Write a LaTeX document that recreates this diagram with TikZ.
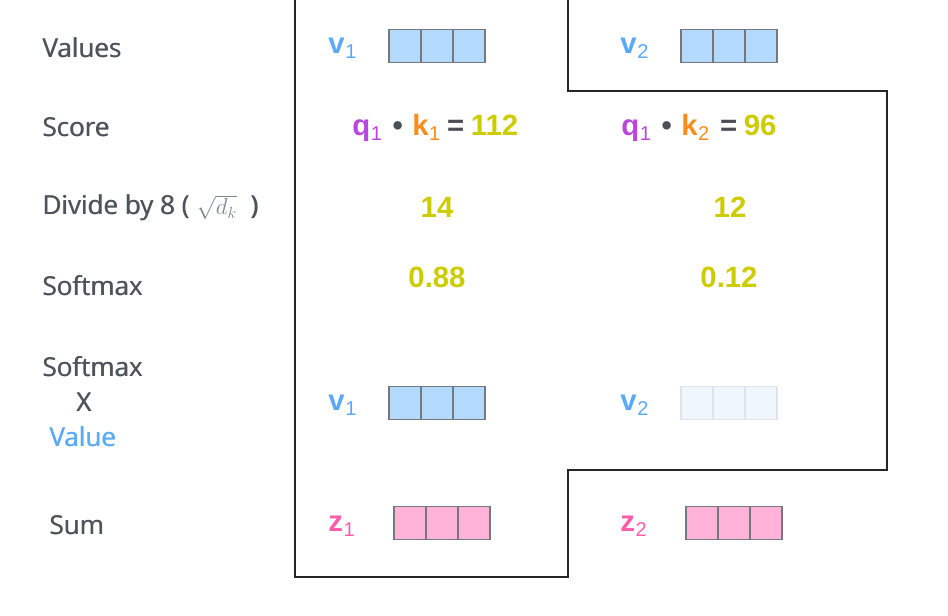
\documentclass[tikz,border=0pt]{standalone}
\usepackage{fontspec}
\setmainfont{Open Sans}
\newfontfamily\cfont{Liberation Sans}
\definecolor{lblgray}{HTML}{4E545A}
\definecolor{vblue}{HTML}{5AAAF8}
\definecolor{boxblue}{HTML}{B3D9FF}
\definecolor{faintfill}{HTML}{F0F6FE}
\definecolor{faintline}{HTML}{E0E4E9}
\definecolor{cellline}{HTML}{75797E}
\definecolor{zpink}{HTML}{FF5CAA}
\definecolor{boxpink}{HTML}{FFB3D9}
\definecolor{qpurple}{HTML}{BB44DD}
\definecolor{korange}{HTML}{FF8C1A}
\definecolor{numyellow}{HTML}{CCCC00}
\definecolor{opgray}{HTML}{4A4F55}
\definecolor{mathgray}{HTML}{80858B}
\newcommand{\sbx}[1]{\hspace{0.5pt}\raisebox{-0.3ex}{\fontsize{15}{15}\selectfont\mdseries #1}}
\newcommand{\semib}[1]{\rlap{#1}\kern0.45pt#1}
\tikzset{
  outline/.style={draw=black!85, line width=1.1pt},
  lbl/.style={font=\fontsize{19.5}{22}\selectfont, text=lblgray, inner sep=0pt, anchor=west},
  clr/.style={font=\cfont\bfseries\fontsize{22}{24}\selectfont, inner sep=0pt},
  cell/.style={draw=cellline, line width=0.9pt, minimum width=24pt, minimum height=24.5pt, inner sep=0pt, outer sep=0pt},
  bluecell/.style={cell, fill=boxblue},
  faintcell/.style={cell, fill=faintfill, draw=faintline},
  pinkcell/.style={cell, fill=boxpink},
}
\newcommand{\vecbox}[4]{% name, x-left, y-center, style
  \node[#4, anchor=west] (#1a) at (#2,#3) {};
  \node[#4, anchor=west] (#1b) at (#1a.east) {};
  \node[#4, anchor=west] (#1c) at (#1b.east) {};
}
\begin{document}
\begin{tikzpicture}[x=0.75pt,y=-0.75pt]
\useasboundingbox (0,0) rectangle (948,616);
% outline
\draw[outline] (295,0) -- (295,577) -- (568,577) -- (568,470) -- (887,470) -- (887,91) -- (568,91) -- (568,0);
% row labels
\node[lbl] (lvalues) at (42,48) {\semib{Values}};
\node[lbl] (lscore) at (42,127) {\semib{Score}};
\node[lbl] (ldivide) at (42,208) {\semib{Divide by 8 (} {\color{mathgray}\fontsize{17}{17}\selectfont$\sqrt{d_k}$} \ \semib{)}};
\node[lbl] (lsoft) at (42,286) {\semib{Softmax}};
\node[lbl] (lsoft2) at (42,367) {\semib{Softmax}};
\node[lbl, anchor=center] (lx) at (84,402) {\semib{X}};
\node[lbl, text=vblue] (lvalue) at (49,437) {\semib{Value}};
\node[lbl] (lsum) at (49,525) {\semib{Sum}};
% values row
\node[clr, text=vblue, anchor=west] (v1) at (328,48) {v\sbx{1}};
\vecbox{bv1}{389}{46}{bluecell}
\node[clr, text=vblue, anchor=west] (v2) at (620,48) {v\sbx{2}};
\vecbox{bv2}{681}{46}{bluecell}
% score row
\node[clr, anchor=west] (s1) at (352,128) {{\color{qpurple}q\sbx{1}}\hspace{8pt}{\color{opgray}•}\hspace{7pt}{\color{korange}k\sbx{1}}\hspace{5pt}{\color{opgray}=}\hspace{5pt}{\color{numyellow}112}};
\node[clr, anchor=west] (s2) at (621,128) {{\color{qpurple}q\sbx{1}}\hspace{8pt}{\color{opgray}•}\hspace{7pt}{\color{korange}k\sbx{2}}\hspace{8pt}{\color{opgray}=}\hspace{5pt}{\color{numyellow}96}};
% divide row
\node[clr, text=numyellow] (d1) at (437,207) {14};
\node[clr, text=numyellow] (d2) at (730,207) {12};
% softmax row
\node[clr, text=numyellow] (sm1) at (437,277) {0.88};
\node[clr, text=numyellow] (sm2) at (729,277) {0.12};
% softmax x value row
\node[clr, text=vblue, anchor=west] (w1) at (328,405) {v\sbx{1}};
\vecbox{bw1}{389}{403}{bluecell}
\node[clr, text=vblue, anchor=west] (w2) at (620,405) {v\sbx{2}};
\vecbox{bw2}{681}{403}{faintcell}
% sum row
\node[clr, text=zpink, anchor=west] (z1) at (328,526) {z\sbx{1}};
\vecbox{bz1}{394}{523}{pinkcell}
\node[clr, text=zpink, anchor=west] (z2) at (620,526) {z\sbx{2}};
\vecbox{bz2}{686}{523}{pinkcell}
\end{tikzpicture}
\end{document}
